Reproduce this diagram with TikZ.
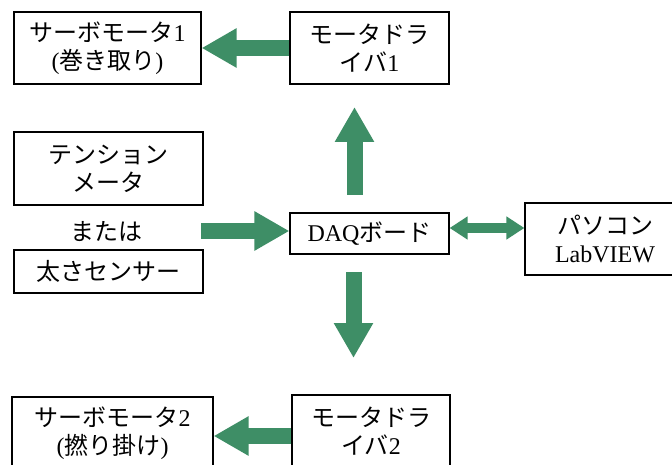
\documentclass[tikz,border=0pt]{standalone}
\usepackage{fontspec}
\setmainfont{Liberation Serif}
\newfontfamily\cjk{Noto Sans CJK JP}
\usetikzlibrary{arrows.meta}
\definecolor{ag}{HTML}{3E8E66}
\begin{document}
\begin{tikzpicture}[x=1pt,y=-1pt,
 box/.style={draw=black, line width=1.2pt, fill=white, align=center, inner sep=0pt, font=\fontsize{24}{28}\selectfont},
 lbl/.style={inner sep=0pt, font=\fontsize{24}{28}\selectfont},
 bigarr/.style={draw=ag, line width=16pt, -{Triangle[length=35pt,width=37pt]}},
 dblarr/.style={draw=ag, line width=10pt, {Triangle[length=18pt,width=22pt]}-{Triangle[length=18pt,width=22pt]}}]
\clip (0,0) rectangle (672,465);
\fill[white] (0,0) rectangle (672,465);
% boxes
\node[box, minimum width=187pt, minimum height=72pt] (servo1) at (107.5,48) {{\cjk サーボモータ}1\\({\cjk 巻き取り})};
\node[box, minimum width=159pt, minimum height=72pt] (drv1) at (369.5,48) {{\cjk モータドラ}\\{\cjk イバ}1};
\node[box, minimum width=189pt, minimum height=73pt] (tension) at (108.5,168.5) {{\cjk テンション}\\{\cjk メータ}};
\node[lbl] (mata) at (106,232) {\cjk または};
\node[box, minimum width=189pt, minimum height=43pt] (thick) at (108.5,271.5) {\cjk 太さセンサー};
\node[box, minimum width=159pt, minimum height=41pt] (daq) at (369.5,233.5) {DAQ{\cjk ボード}};
\node[box, minimum width=160pt, minimum height=72pt] (pc) at (605,239) {{\cjk パソコン}\\LabVIEW};
\node[box, minimum width=201pt, minimum height=72pt] (servo2) at (112.5,433) {{\cjk サーボモータ}2\\({\cjk 撚り掛け})};
\node[box, minimum width=158pt, minimum height=72pt] (drv2) at (371,431) {{\cjk モータドラ}\\{\cjk イバ}2};
% arrow end points
\coordinate (ua) at (354.5,195);
\coordinate (ub) at (354.5,107);
\coordinate (da) at (353.5,272);
\coordinate (db) at (353.5,358);
\coordinate (rsrc) at (201,231);
\coordinate (dl) at (0,228);
\coordinate (l2) at (0,436);
% arrows
\draw[bigarr] (drv1.west) -- (servo1.east);
\draw[bigarr] (ua) -- (ub);
\draw[bigarr] (da) -- (db);
\draw[bigarr] (rsrc) -- (rsrc -| daq.west);
\draw[dblarr] (dl -| daq.east) -- (dl -| pc.west);
\draw[bigarr] (l2 -| drv2.west) -- (l2 -| servo2.east);
\end{tikzpicture}
\end{document}
